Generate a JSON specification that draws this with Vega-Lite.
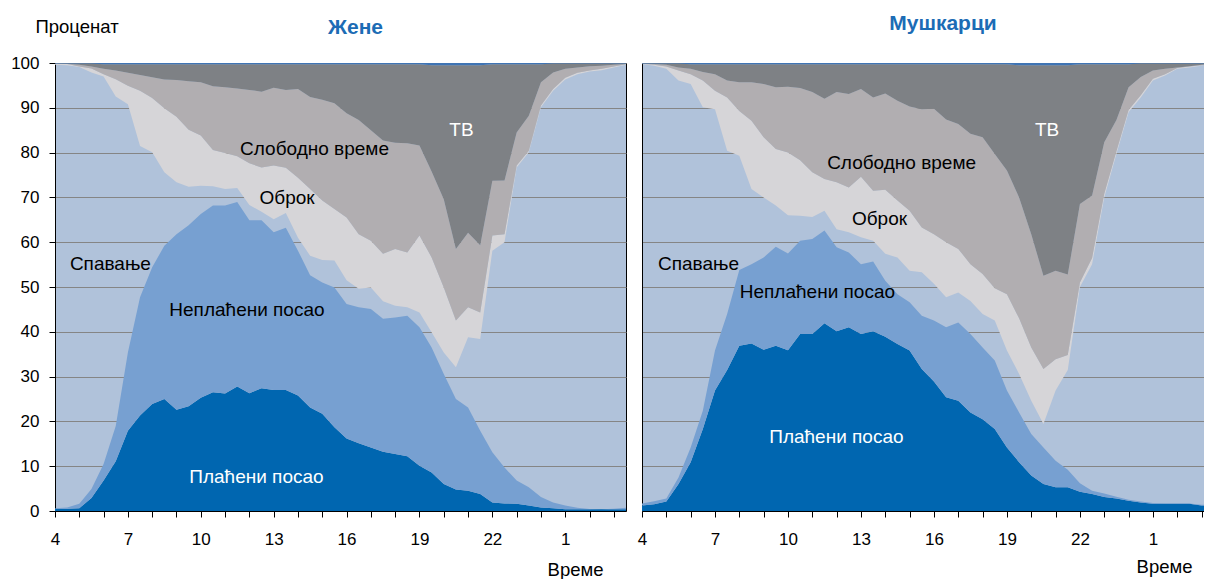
{
  "$schema": "https://vega.github.io/schema/vega-lite/v6.json",
  "padding": {"left": 10, "top": 12, "right": 0, "bottom": 0},
  "background": "white",
  "spacing": 10,
  "config": {"font": "Liberation Sans", "concat": {"spacing": 10}},
  "datasets": {
    "cats": [
      {"key": "paid", "o": 1}, {"key": "unpaid", "o": 2}, {"key": "sleep", "o": 3},
      {"key": "meal", "o": 4}, {"key": "free", "o": 5}, {"key": "tv", "o": 6}, {"key": "other", "o": 7}
    ],
    "labels": [
      {"g": "Жене", "t": 6.28, "v": 55.1, "text": "Спавање"},
      {"g": "Жене", "t": 11.9, "v": 44.9, "text": "Неплаћени посао"},
      {"g": "Жене", "t": 12.29, "v": 7.6, "text": "Плаћени посао"},
      {"g": "Жене", "t": 13.55, "v": 69.9, "text": "Оброк"},
      {"g": "Жене", "t": 14.68, "v": 80.8, "text": "Слободно време"},
      {"g": "Жене", "t": 20.73, "v": 85.0, "text": "ТВ"},
      {"g": "Мушкарци", "t": 6.32, "v": 55.1, "text": "Спавање"},
      {"g": "Мушкарци", "t": 11.21, "v": 48.9, "text": "Неплаћени посао"},
      {"g": "Мушкарци", "t": 11.99, "v": 16.5, "text": "Плаћени посао"},
      {"g": "Мушкарци", "t": 13.76, "v": 65.2, "text": "Оброк"},
      {"g": "Мушкарци", "t": 14.67, "v": 77.7, "text": "Слободно време"},
      {"g": "Мушкарци", "t": 20.65, "v": 85.0, "text": "ТВ"}
    ],
    "d": [
      {"g":"Жене","t":4,"paid":0.5,"unpaid":0.1,"sleep":99.0,"meal":0.25,"free":0.05,"tv":0,"other":0.1},
      {"g":"Жене","t":4.5,"paid":0.5,"unpaid":0.3,"sleep":98.7,"meal":0.3,"free":0.05,"tv":0.05,"other":0.1},
      {"g":"Жене","t":5,"paid":0.6,"unpaid":1.0,"sleep":97.5,"meal":0.1,"free":0.4,"tv":0.3,"other":0.1},
      {"g":"Жене","t":5.5,"paid":2.9,"unpaid":2.0,"sleep":93.0,"meal":0.9,"free":0.4,"tv":0.7,"other":0.1},
      {"g":"Жене","t":6,"paid":6.8,"unpaid":3.7,"sleep":86.5,"meal":0.5,"free":1.2,"tv":1.0,"other":0.3},
      {"g":"Жене","t":6.5,"paid":11.1,"unpaid":7.9,"sleep":73.5,"meal":3.9,"free":1.9,"tv":1.4,"other":0.3},
      {"g":"Жене","t":7,"paid":17.9,"unpaid":17.5,"sleep":55.4,"meal":4.1,"free":2.9,"tv":1.9,"other":0.3},
      {"g":"Жене","t":7.5,"paid":21.3,"unpaid":26.4,"sleep":33.8,"meal":12.3,"free":3.5,"tv":2.4,"other":0.3},
      {"g":"Жене","t":8,"paid":23.9,"unpaid":30.5,"sleep":25.7,"meal":12.1,"free":4.6,"tv":2.9,"other":0.3},
      {"g":"Жене","t":8.5,"paid":25.0,"unpaid":34.2,"sleep":16.4,"meal":14.3,"free":6.4,"tv":3.4,"other":0.3},
      {"g":"Жене","t":9,"paid":22.6,"unpaid":39.2,"sleep":11.6,"meal":14.6,"free":8.2,"tv":3.5,"other":0.3},
      {"g":"Жене","t":9.5,"paid":23.4,"unpaid":40.4,"sleep":8.6,"meal":12.7,"free":10.8,"tv":3.8,"other":0.3},
      {"g":"Жене","t":10,"paid":25.3,"unpaid":41.0,"sleep":6.3,"meal":11.2,"free":11.9,"tv":4.0,"other":0.3},
      {"g":"Жене","t":10.5,"paid":26.5,"unpaid":41.7,"sleep":4.3,"meal":8.1,"free":14.2,"tv":4.9,"other":0.3},
      {"g":"Жене","t":11,"paid":26.2,"unpaid":42.0,"sleep":3.7,"meal":8.0,"free":14.7,"tv":5.1,"other":0.3},
      {"g":"Жене","t":11.5,"paid":27.8,"unpaid":41.2,"sleep":3.1,"meal":7.1,"free":15.1,"tv":5.4,"other":0.3},
      {"g":"Жене","t":12,"paid":26.3,"unpaid":38.6,"sleep":3.4,"meal":9.3,"free":16.4,"tv":5.7,"other":0.3},
      {"g":"Жене","t":12.5,"paid":27.4,"unpaid":37.5,"sleep":1.9,"meal":9.9,"free":16.9,"tv":6.1,"other":0.3},
      {"g":"Жене","t":13,"paid":27.0,"unpaid":35.2,"sleep":2.9,"meal":12.0,"free":17.4,"tv":5.2,"other":0.3},
      {"g":"Жене","t":13.5,"paid":27.0,"unpaid":36.2,"sleep":3.3,"meal":10.1,"free":17.4,"tv":5.7,"other":0.3},
      {"g":"Жене","t":14,"paid":25.8,"unpaid":32.3,"sleep":2.9,"meal":13.4,"free":19.8,"tv":5.5,"other":0.3},
      {"g":"Жене","t":14.5,"paid":23.1,"unpaid":29.5,"sleep":4.4,"meal":14.9,"free":20.5,"tv":7.3,"other":0.3},
      {"g":"Жене","t":15,"paid":21.7,"unpaid":29.3,"sleep":5.0,"meal":13.3,"free":22.5,"tv":7.9,"other":0.3},
      {"g":"Жене","t":15.5,"paid":18.7,"unpaid":31.2,"sleep":6.0,"meal":11.5,"free":23.6,"tv":8.7,"other":0.3},
      {"g":"Жене","t":16,"paid":16.2,"unpaid":30.0,"sleep":5.3,"meal":14.0,"free":23.3,"tv":10.9,"other":0.3},
      {"g":"Жене","t":16.5,"paid":15.1,"unpaid":30.4,"sleep":4.1,"meal":12.2,"free":25.5,"tv":12.4,"other":0.3},
      {"g":"Жене","t":17,"paid":14.2,"unpaid":30.9,"sleep":4.8,"meal":10.4,"free":24.7,"tv":14.7,"other":0.3},
      {"g":"Жене","t":17.5,"paid":13.2,"unpaid":29.7,"sleep":3.9,"meal":10.6,"free":25.3,"tv":17.0,"other":0.3},
      {"g":"Жене","t":18,"paid":12.7,"unpaid":30.5,"sleep":2.6,"meal":12.7,"free":23.7,"tv":17.5,"other":0.3},
      {"g":"Жене","t":18.5,"paid":12.2,"unpaid":31.4,"sleep":1.9,"meal":12.2,"free":24.4,"tv":17.6,"other":0.3},
      {"g":"Жене","t":19,"paid":10.1,"unpaid":30.9,"sleep":3.3,"meal":17.2,"free":20.1,"tv":18.1,"other":0.3},
      {"g":"Жене","t":19.5,"paid":8.6,"unpaid":27.9,"sleep":3.4,"meal":16.7,"free":19.2,"tv":23.7,"other":0.5},
      {"g":"Жене","t":20,"paid":6.0,"unpaid":24.6,"sleep":4.8,"meal":14.5,"free":19.7,"tv":29.9,"other":0.5},
      {"g":"Жене","t":20.5,"paid":4.8,"unpaid":20.2,"sleep":7.1,"meal":10.4,"free":16.0,"tv":41.0,"other":0.5},
      {"g":"Жене","t":21,"paid":4.5,"unpaid":18.6,"sleep":15.7,"meal":6.7,"free":16.6,"tv":37.4,"other":0.5},
      {"g":"Жене","t":21.5,"paid":3.8,"unpaid":14.1,"sleep":20.5,"meal":5.9,"free":15.0,"tv":40.2,"other":0.5},
      {"g":"Жене","t":22,"paid":1.9,"unpaid":11.2,"sleep":45.0,"meal":3.4,"free":12.2,"tv":26.0,"other":0.3},
      {"g":"Жене","t":22.5,"paid":1.7,"unpaid":8.0,"sleep":50.3,"meal":1.8,"free":12.0,"tv":25.9,"other":0.3},
      {"g":"Жене","t":23,"paid":1.6,"unpaid":5.2,"sleep":69.9,"meal":0.4,"free":7.4,"tv":15.2,"other":0.3},
      {"g":"Жене","t":23.5,"paid":1.2,"unpaid":4.1,"sleep":74.8,"meal":0.3,"free":7.8,"tv":11.5,"other":0.3},
      {"g":"Жене","t":24,"paid":0.8,"unpaid":2.3,"sleep":87.0,"meal":0.4,"free":5.2,"tv":4.0,"other":0.3},
      {"g":"Жене","t":24.5,"paid":0.6,"unpaid":1.3,"sleep":91.9,"meal":0.4,"free":3.7,"tv":2.0,"other":0.1},
      {"g":"Жене","t":25,"paid":0.4,"unpaid":0.8,"sleep":95.1,"meal":0.4,"free":2.0,"tv":1.2,"other":0.1},
      {"g":"Жене","t":25.5,"paid":0.4,"unpaid":0.3,"sleep":96.8,"meal":0.3,"free":1.2,"tv":0.9,"other":0.1},
      {"g":"Жене","t":26,"paid":0.4,"unpaid":0.05,"sleep":97.65,"meal":0.2,"free":1.0,"tv":0.6,"other":0.1},
      {"g":"Жене","t":26.5,"paid":0.4,"unpaid":0.0,"sleep":98.0,"meal":0.3,"free":0.7,"tv":0.5,"other":0.1},
      {"g":"Жене","t":27,"paid":0.4,"unpaid":0.1,"sleep":98.5,"meal":0.2,"free":0.4,"tv":0.3,"other":0.1},
      {"g":"Жене","t":27.5,"paid":0.4,"unpaid":0.3,"sleep":98.9,"meal":0.1,"free":0.1,"tv":0.1,"other":0.1},
      {"g":"Мушкарци","t":4,"paid":1.2,"unpaid":0.5,"sleep":98.1,"meal":0.05,"free":0.05,"tv":0,"other":0.1},
      {"g":"Мушкарци","t":4.5,"paid":1.5,"unpaid":0.7,"sleep":97.2,"meal":0.2,"free":0.2,"tv":0.1,"other":0.1},
      {"g":"Мушкарци","t":5,"paid":2.1,"unpaid":0.7,"sleep":95.9,"meal":0.5,"free":0.4,"tv":0.3,"other":0.1},
      {"g":"Мушкарци","t":5.5,"paid":6.0,"unpaid":1.5,"sleep":88.6,"meal":2.2,"free":0.7,"tv":0.9,"other":0.1},
      {"g":"Мушкарци","t":6,"paid":10.9,"unpaid":3.3,"sleep":81.1,"meal":2.2,"free":1.2,"tv":1.0,"other":0.3},
      {"g":"Мушкарци","t":6.5,"paid":18.3,"unpaid":4.1,"sleep":67.7,"meal":6.0,"free":1.9,"tv":1.7,"other":0.3},
      {"g":"Мушкарци","t":7,"paid":26.9,"unpaid":8.9,"sleep":53.9,"meal":4.1,"free":3.7,"tv":2.2,"other":0.3},
      {"g":"Мушкарци","t":7.5,"paid":31.5,"unpaid":12.5,"sleep":36.4,"meal":11.9,"free":3.8,"tv":3.6,"other":0.3},
      {"g":"Мушкарци","t":8,"paid":36.9,"unpaid":16.9,"sleep":25.5,"meal":10.0,"free":6.4,"tv":4.0,"other":0.3},
      {"g":"Мушкарци","t":8.5,"paid":37.4,"unpaid":17.7,"sleep":16.8,"meal":15.2,"free":8.6,"tv":4.0,"other":0.3},
      {"g":"Мушкарци","t":9,"paid":36.0,"unpaid":20.6,"sleep":13.4,"meal":13.4,"free":11.9,"tv":4.4,"other":0.3},
      {"g":"Мушкарци","t":9.5,"paid":36.9,"unpaid":22.1,"sleep":9.2,"meal":12.6,"free":13.8,"tv":5.1,"other":0.3},
      {"g":"Мушкарци","t":10,"paid":35.9,"unpaid":21.6,"sleep":8.5,"meal":14.0,"free":14.7,"tv":5.0,"other":0.3},
      {"g":"Мушкарци","t":10.5,"paid":39.5,"unpaid":20.8,"sleep":5.6,"meal":12.4,"free":16.1,"tv":5.3,"other":0.3},
      {"g":"Мушкарци","t":11,"paid":39.5,"unpaid":21.2,"sleep":4.9,"meal":10.0,"free":17.9,"tv":6.2,"other":0.3},
      {"g":"Мушкарци","t":11.5,"paid":41.9,"unpaid":20.7,"sleep":4.4,"meal":7.1,"free":17.9,"tv":7.7,"other":0.3},
      {"g":"Мушкарци","t":12,"paid":40.1,"unpaid":18.8,"sleep":4.0,"meal":10.5,"free":20.1,"tv":6.2,"other":0.3},
      {"g":"Мушкарци","t":12.5,"paid":41.0,"unpaid":16.7,"sleep":4.5,"meal":10.0,"free":20.9,"tv":6.6,"other":0.3},
      {"g":"Мушкарци","t":13,"paid":39.5,"unpaid":15.6,"sleep":6.0,"meal":13.5,"free":19.6,"tv":5.5,"other":0.3},
      {"g":"Мушкарци","t":13.5,"paid":40.1,"unpaid":15.6,"sleep":4.6,"meal":11.2,"free":20.8,"tv":7.4,"other":0.3},
      {"g":"Мушкарци","t":14,"paid":38.9,"unpaid":12.5,"sleep":6.0,"meal":14.3,"free":21.5,"tv":6.5,"other":0.3},
      {"g":"Мушкарци","t":14.5,"paid":37.3,"unpaid":11.1,"sleep":8.2,"meal":12.7,"free":22.3,"tv":8.1,"other":0.3},
      {"g":"Мушкарци","t":15,"paid":35.8,"unpaid":10.8,"sleep":7.0,"meal":13.4,"free":23.3,"tv":9.4,"other":0.3},
      {"g":"Мушкарци","t":15.5,"paid":31.7,"unpaid":11.9,"sleep":9.7,"meal":10.0,"free":26.4,"tv":10.0,"other":0.3},
      {"g":"Мушкарци","t":16,"paid":28.9,"unpaid":13.6,"sleep":8.2,"meal":11.1,"free":28.0,"tv":9.9,"other":0.3},
      {"g":"Мушкарци","t":16.5,"paid":25.4,"unpaid":15.6,"sleep":6.7,"meal":12.3,"free":27.4,"tv":12.3,"other":0.3},
      {"g":"Мушкарци","t":17,"paid":24.6,"unpaid":17.5,"sleep":6.7,"meal":9.7,"free":27.9,"tv":13.3,"other":0.3},
      {"g":"Мушкарци","t":17.5,"paid":22.0,"unpaid":17.5,"sleep":7.4,"meal":8.2,"free":29.1,"tv":15.5,"other":0.3},
      {"g":"Мушкарци","t":18,"paid":20.5,"unpaid":16.0,"sleep":7.5,"meal":8.9,"free":30.5,"tv":16.3,"other":0.3},
      {"g":"Мушкарци","t":18.5,"paid":18.3,"unpaid":15.3,"sleep":8.9,"meal":7.2,"free":30.0,"tv":20.0,"other":0.3},
      {"g":"Мушкарци","t":19,"paid":14.2,"unpaid":12.7,"sleep":8.9,"meal":12.6,"free":27.6,"tv":23.7,"other":0.3},
      {"g":"Мушкарци","t":19.5,"paid":10.9,"unpaid":11.1,"sleep":8.6,"meal":12.4,"free":27.0,"tv":29.5,"other":0.5},
      {"g":"Мушкарци","t":20,"paid":7.9,"unpaid":9.3,"sleep":7.4,"meal":11.9,"free":25.3,"tv":37.7,"other":0.5},
      {"g":"Мушкарци","t":20.5,"paid":6.0,"unpaid":8.2,"sleep":5.2,"meal":12.3,"free":20.8,"tv":47.0,"other":0.5},
      {"g":"Мушкарци","t":21,"paid":5.3,"unpaid":5.9,"sleep":15.7,"meal":7.0,"free":19.7,"tv":45.9,"other":0.5},
      {"g":"Мушкарци","t":21.5,"paid":5.3,"unpaid":3.9,"sleep":22.3,"meal":3.3,"free":18.0,"tv":46.7,"other":0.5},
      {"g":"Мушкарци","t":22,"paid":4.3,"unpaid":1.9,"sleep":43.8,"meal":1.0,"free":17.5,"tv":31.2,"other":0.3},
      {"g":"Мушкарци","t":22.5,"paid":3.8,"unpaid":0.7,"sleep":50.6,"meal":1.4,"free":13.9,"tv":29.3,"other":0.3},
      {"g":"Мушкарци","t":23,"paid":3.1,"unpaid":0.8,"sleep":66.1,"meal":0.8,"free":11.5,"tv":17.4,"other":0.3},
      {"g":"Мушкарци","t":23.5,"paid":2.8,"unpaid":0.4,"sleep":76.5,"meal":0.6,"free":7.0,"tv":12.4,"other":0.3},
      {"g":"Мушкарци","t":24,"paid":2.3,"unpaid":0.2,"sleep":86.5,"meal":0.5,"free":5.1,"tv":5.1,"other":0.3},
      {"g":"Мушкарци","t":24.5,"paid":1.9,"unpaid":0.2,"sleep":90.2,"meal":0.5,"free":4.1,"tv":3.0,"other":0.1},
      {"g":"Мушкарци","t":25,"paid":1.6,"unpaid":0.2,"sleep":94.3,"meal":0.4,"free":1.8,"tv":1.6,"other":0.1},
      {"g":"Мушкарци","t":25.5,"paid":1.6,"unpaid":0.1,"sleep":95.5,"meal":0.3,"free":1.2,"tv":1.2,"other":0.1},
      {"g":"Мушкарци","t":26,"paid":1.6,"unpaid":0.1,"sleep":97.0,"meal":0.2,"free":0.1,"tv":0.9,"other":0.1},
      {"g":"Мушкарци","t":26.5,"paid":1.6,"unpaid":0.1,"sleep":97.3,"meal":0.2,"free":0.1,"tv":0.6,"other":0.1},
      {"g":"Мушкарци","t":27,"paid":1.2,"unpaid":0.2,"sleep":98.0,"meal":0.1,"free":0.1,"tv":0.3,"other":0.1},
      {"g":"Мушкарци","t":27.5,"paid":1.2,"unpaid":0.1,"sleep":98.5,"meal":0.05,"free":0.0,"tv":0.05,"other":0.1}
    ]
  },
  "hconcat": [
    {
      "width": 571,
      "height": 448,
      "title": {"text": "Жене", "fontSize": 21, "fontWeight": "bold", "color": "#1C6CB5", "dx": 15, "offset": -38, "baseline": "alphabetic", "anchor": "middle", "frame": "group"},
      "view": {"fill": "#B0C2DA", "stroke": "#000", "strokeWidth": 1},
      "layer": [
        {
          "data": {"name": "d"},
          "transform": [
            {"filter": "datum.g === 'Жене'"},
            {"fold": ["paid", "unpaid", "sleep", "meal", "free", "tv", "other"], "as": ["key", "value"]},
            {"lookup": "key", "from": {"data": {"name": "cats"}, "key": "key", "fields": ["o"]}}
          ],
          "mark": {"type": "area", "clip": true},
          "encoding": {
            "x": {"field": "t", "type": "quantitative", "title": "Време",
              "scale": {"domain": [4, 27.5], "nice": false, "zero": false},
              "axis": {"values": [4,5,6,7,8,9,10,11,12,13,14,15,16,17,18,19,20,21,22,23,24,25,26,27],
                "labelExpr": "(datum.value - 4) % 3 === 0 ? '' + (datum.value > 24 ? datum.value - 24 : datum.value) : ''",
                "labelOverlap": false, "labelFlush": false, "grid": false,
                "tickSize": 6, "tickColor": "#000", "domainColor": "#000", "labelColor": "#000",
                "labelFontSize": 17, "labelPadding": 14,
                "titleFontSize": 18.5, "titleFontWeight": "normal", "titleColor": "#000",
                "titleX": 548, "titleY": 64, "titleAlign": "right", "titleBaseline": "alphabetic"}},
            "y": {"field": "value", "type": "quantitative", "stack": "zero", "title": "Проценат",
              "scale": {"domain": [0, 100], "nice": false},
              "axis": {"values": [0,10,20,30,40,50,60,70,80,90,100], "grid": true, "gridColor": "#858585", "gridWidth": 1.2,
                "tickSize": 6, "tickColor": "#000", "domainColor": "#000", "labelColor": "#000",
                "labelFontSize": 17, "labelPadding": 10, "labelFlush": false,
                "titleFontSize": 18.5, "titleFontWeight": "normal", "titleColor": "#000", "titleAngle": 0,
                "titleAlign": "left", "titleBaseline": "alphabetic", "titleX": -20, "titleY": -31}},
            "color": {"field": "key", "type": "nominal", "legend": null,
              "scale": {"domain": ["paid", "unpaid", "sleep", "meal", "free", "tv", "other"],
                "range": ["#0066B0", "#77A0D1", "rgba(0,0,0,0)", "#D6D5D8", "#B1AEB1", "#7E8185", "#3F74B4"]}},
            "order": {"field": "o", "type": "quantitative"}
          }
        },
        {
          "data": {"name": "labels"},
          "transform": [{"filter": "datum.g === 'Жене'"}],
          "mark": {"type": "text", "fontSize": 19},
          "encoding": {
            "x": {"field": "t", "type": "quantitative", "title": "Време",
              "scale": {"domain": [4, 27.5], "nice": false, "zero": false},
              "axis": {"values": [4,5,6,7,8,9,10,11,12,13,14,15,16,17,18,19,20,21,22,23,24,25,26,27],
                "labelExpr": "(datum.value - 4) % 3 === 0 ? '' + (datum.value > 24 ? datum.value - 24 : datum.value) : ''",
                "labelOverlap": false, "labelFlush": false, "grid": false,
                "tickSize": 6, "tickColor": "#000", "domainColor": "#000", "labelColor": "#000",
                "labelFontSize": 17, "labelPadding": 14,
                "titleFontSize": 18.5, "titleFontWeight": "normal", "titleColor": "#000",
                "titleX": 548, "titleY": 64, "titleAlign": "right", "titleBaseline": "alphabetic"}},
            "y": {"field": "v", "type": "quantitative", "title": "Проценат",
              "scale": {"domain": [0, 100], "nice": false},
              "axis": {"values": [0,10,20,30,40,50,60,70,80,90,100], "grid": true, "gridColor": "#858585", "gridWidth": 1.2,
                "tickSize": 6, "tickColor": "#000", "domainColor": "#000", "labelColor": "#000",
                "labelFontSize": 17, "labelPadding": 10, "labelFlush": false,
                "titleFontSize": 18.5, "titleFontWeight": "normal", "titleColor": "#000", "titleAngle": 0,
                "titleAlign": "left", "titleBaseline": "alphabetic", "titleX": -20, "titleY": -31}},
            "text": {"field": "text"},
            "color": {"condition": {"test": "datum.text === 'Плаћени посао' || datum.text === 'ТВ'", "value": "#ffffff"}, "value": "#000000"}
          }
        }
      ]
    },
    {
      "width": 562,
      "height": 448,
      "title": {"text": "Мушкарци", "fontSize": 21, "fontWeight": "bold", "color": "#1C6CB5", "dx": 20, "offset": 12.5, "baseline": "alphabetic", "anchor": "middle", "frame": "group"},
      "view": {"fill": "#B0C2DA", "stroke": null},
      "layer": [
        {
          "data": {"name": "d"},
          "transform": [
            {"filter": "datum.g === 'Мушкарци'"},
            {"fold": ["paid", "unpaid", "sleep", "meal", "free", "tv", "other"], "as": ["key", "value"]},
            {"lookup": "key", "from": {"data": {"name": "cats"}, "key": "key", "fields": ["o"]}}
          ],
          "mark": {"type": "area", "clip": true},
          "encoding": {
            "x": {"field": "t", "type": "quantitative", "title": "Време",
              "scale": {"domain": [4, 27.1], "nice": false, "zero": false},
              "axis": {"values": [4,5,6,7,8,9,10,11,12,13,14,15,16,17,18,19,20,21,22,23,24,25,26,27],
                "labelExpr": "(datum.value - 4) % 3 === 0 ? '' + (datum.value > 24 ? datum.value - 24 : datum.value) : ''",
                "labelOverlap": false, "labelFlush": false, "grid": false,
                "tickSize": 6, "tickColor": "#000", "domainColor": "#000", "labelColor": "#000",
                "labelFontSize": 17, "labelPadding": 14,
                "titleFontSize": 18.5, "titleFontWeight": "normal", "titleColor": "#000",
                "titleX": 550, "titleY": 61, "titleAlign": "right", "titleBaseline": "alphabetic"}},
            "y": {"field": "value", "type": "quantitative", "stack": "zero", "title": null,
              "scale": {"domain": [0, 100], "nice": false},
              "axis": {"values": [0,10,20,30,40,50,60,70,80,90,100], "grid": true, "gridColor": "#858585", "gridWidth": 1.2,
                "ticks": false, "labels": false, "domainColor": "#000", "title": null}},
            "color": {"field": "key", "type": "nominal", "legend": null,
              "scale": {"domain": ["paid", "unpaid", "sleep", "meal", "free", "tv", "other"],
                "range": ["#0066B0", "#77A0D1", "rgba(0,0,0,0)", "#D6D5D8", "#B1AEB1", "#7E8185", "#3F74B4"]}},
            "order": {"field": "o", "type": "quantitative"}
          }
        },
        {
          "mark": {"type": "rule", "color": "#222", "strokeWidth": 1},
          "encoding": {"y": {"datum": 100}}
        },
        {
          "data": {"name": "labels"},
          "transform": [{"filter": "datum.g === 'Мушкарци'"}],
          "mark": {"type": "text", "fontSize": 19},
          "encoding": {
            "x": {"field": "t", "type": "quantitative", "title": "Време",
              "scale": {"domain": [4, 27.1], "nice": false, "zero": false},
              "axis": {"values": [4,5,6,7,8,9,10,11,12,13,14,15,16,17,18,19,20,21,22,23,24,25,26,27],
                "labelExpr": "(datum.value - 4) % 3 === 0 ? '' + (datum.value > 24 ? datum.value - 24 : datum.value) : ''",
                "labelOverlap": false, "labelFlush": false, "grid": false,
                "tickSize": 6, "tickColor": "#000", "domainColor": "#000", "labelColor": "#000",
                "labelFontSize": 17, "labelPadding": 14,
                "titleFontSize": 18.5, "titleFontWeight": "normal", "titleColor": "#000",
                "titleX": 550, "titleY": 61, "titleAlign": "right", "titleBaseline": "alphabetic"}},
            "y": {"field": "v", "type": "quantitative", "title": null,
              "scale": {"domain": [0, 100], "nice": false},
              "axis": {"values": [0,10,20,30,40,50,60,70,80,90,100], "grid": true, "gridColor": "#858585", "gridWidth": 1.2,
                "ticks": false, "labels": false, "domainColor": "#000", "title": null}},
            "text": {"field": "text"},
            "color": {"condition": {"test": "datum.text === 'Плаћени посао' || datum.text === 'ТВ'", "value": "#ffffff"}, "value": "#000000"}
          }
        }
      ]
    }
  ]
}
